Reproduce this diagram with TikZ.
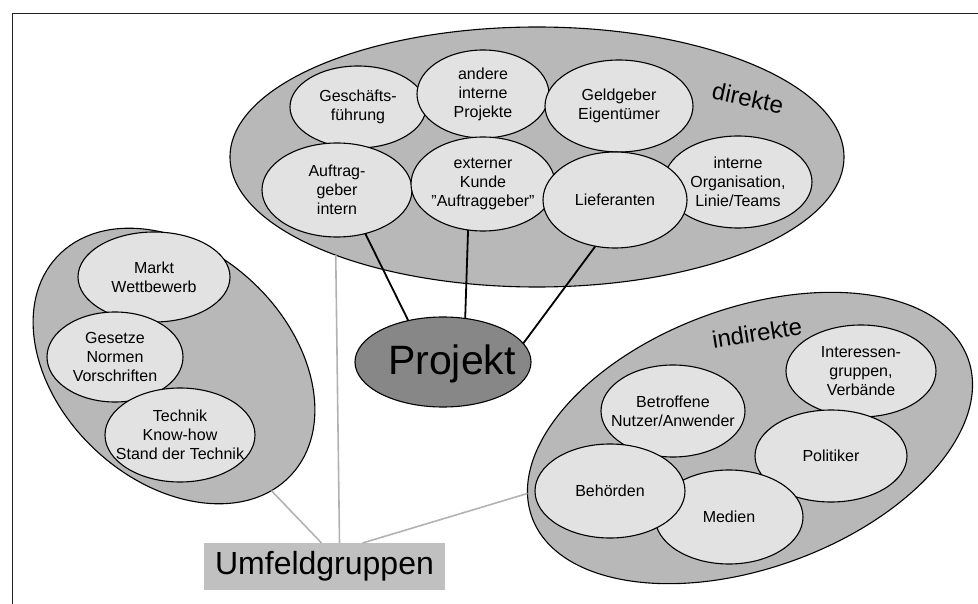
\documentclass[tikz,border=0pt]{standalone}
\usepackage{fontspec}
\setmainfont{Liberation Sans}
\usetikzlibrary{shapes.geometric}
\definecolor{outerfill}{RGB}{184,184,184}
\definecolor{innerfill}{RGB}{226,226,226}
\definecolor{projfill}{RGB}{135,135,135}
\definecolor{boxfill}{RGB}{192,192,192}
\definecolor{linegray}{RGB}{178,178,178}
\definecolor{framecol}{RGB}{35,35,35}
\begin{document}
\begin{tikzpicture}[x=1pt,y=1pt,
  outerell/.style={ellipse, draw=black, line width=1.1pt, fill=outerfill, inner sep=0pt, outer sep=0pt},
  innerell/.style={ellipse, draw=black, line width=1.1pt, fill=innerfill, inner sep=0pt, outer sep=0pt},
  lbl/.style={align=center, font=\fontsize{16}{19}\selectfont, inner sep=0pt},
  grouplbl/.style={font=\fontsize{24}{28}\selectfont, inner sep=0pt},
  bline/.style={line width=1.8pt, black},
  gline/.style={line width=1.6pt, linegray},
]
\useasboundingbox (0,0) rectangle (978,-604);
% frame
\draw[line width=1.5pt, framecol] (978,-13.5) -- (12.5,-13.5) -- (12.5,-604);
\draw[line width=3pt, black!85] (962,-357) -- (962,-410);

% outer groups
\node[outerell, minimum width=614pt, minimum height=260pt] (dir) at (537,-157) {};
\node[outerell, minimum width=320pt, minimum height=230pt, rotate=-43] (umf) at (174,-366) {};
\node[outerell, minimum width=464pt, minimum height=260pt, rotate=20] (ind) at (750,-438) {};

\node[grouplbl, rotate=-12] (dirl) at (748,-98) {direkte};
\node[grouplbl, rotate=9] (indl) at (757,-333) {indirekte};

% direkte
\node[innerell, minimum width=136pt, minimum height=82pt, label={[lbl]center:{Geschäfts-\\führung}}] (gf) at (358,-107) {};
\node[innerell, minimum width=132pt, minimum height=88pt, label={[lbl]center:{andere\\interne\\Projekte}}] (ap) at (483,-94) {};
\node[innerell, minimum width=148pt, minimum height=92pt, label={[lbl]center:{Geldgeber\\Eigentümer}}] (ge) at (619,-106) {};
\node[innerell, minimum width=150pt, minimum height=94pt, label={[lbl]center:{Auftrag-\\geber\\intern}}] (ai) at (337,-190) {};
\node[innerell, minimum width=144pt, minimum height=94pt, label={[lbl]center:{externer\\Kunde\\\char34 Auftraggeber\char34}}] (ek) at (483,-184) {};
\node[innerell, minimum width=148pt, minimum height=92pt, label={[lbl]center:{interne\\Organisation,\\Linie/Teams}}] (io) at (738,-182) {};
\node[innerell, minimum width=144pt, minimum height=96pt, label={[lbl]center:{Lieferanten}}] (lf) at (615,-200) {};

% Umfeld (left)
\node[innerell, minimum width=152pt, minimum height=90pt, label={[lbl]center:{Markt\\Wettbewerb}}] (mw) at (154,-277) {};
\node[innerell, minimum width=136pt, minimum height=90pt, label={[lbl]center:{Gesetze\\Normen\\Vorschriften}}] (gn) at (115,-357) {};
\node[innerell, minimum width=150pt, minimum height=94pt, label={[lbl]center:{Technik\\Know-how\\Stand der Technik}}] (tk) at (180,-435) {};

% indirekte
\node[innerell, minimum width=150pt, minimum height=92pt, label={[lbl]center:{Interessen-\\gruppen,\\Verbände}}] (iv) at (861,-371) {};
\node[innerell, minimum width=152pt, minimum height=92pt, label={[lbl]center:{Politiker}}] (po) at (831,-456) {};
\node[innerell, minimum width=144pt, minimum height=92pt, label={[lbl]center:{Betroffene\\Nutzer/Anwender}}] (bn) at (673,-411) {};
\node[innerell, minimum width=148pt, minimum height=94pt, label={[lbl]center:{Medien}}] (me) at (729,-517) {};
\node[innerell, minimum width=150pt, minimum height=94pt, label={[lbl]center:{Behörden}}] (bh) at (610,-491) {};

% Projekt
\node[ellipse, draw=black, line width=1.1pt, fill=projfill, inner sep=0pt, outer sep=0pt,
      minimum width=176pt, minimum height=90pt] (pj) at (443,-362) {};
\node[font=\fontsize{41}{45}\selectfont, inner sep=0pt] (pjt) at (452,-364) {Projekt};

% Umfeldgruppen
\node[fill=boxfill, minimum width=241pt, minimum height=47pt, inner sep=0pt, outer sep=0pt,
      font=\fontsize{32}{36}\selectfont] (uf) at (324.5,-566.5) {Umfeldgruppen};

% connectors
\draw[bline] (ai.-57) -- (pj.130);
\draw[bline] (ek.-108) -- (pj.63);
\draw[bline] (lf.-113) -- (pj.13);

\draw[gline] ([xshift=-3pt]uf.north) -- (umf.-9.6);
\draw[gline] ([xshift=15pt]uf.north) -- (dir.206);
\draw[gline] ([xshift=38pt]uf.north) -- (ind.174.8);
\end{tikzpicture}
\end{document}
